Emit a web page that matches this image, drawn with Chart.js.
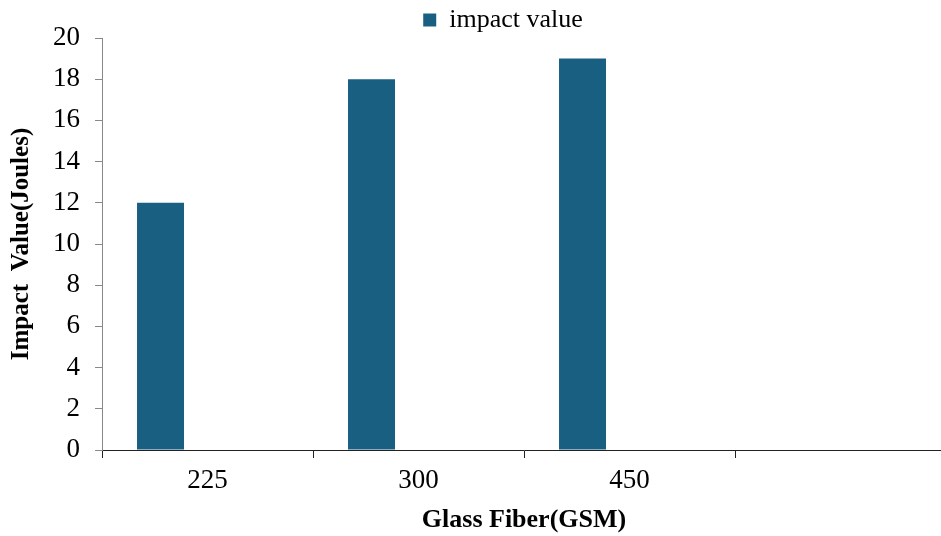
<!DOCTYPE html>
<html><head><meta charset="utf-8">
<script src="https://cdn.jsdelivr.net/npm/chart.js@4.4.1/dist/chart.umd.min.js"></script>
<style>
html,body{margin:0;padding:0;overflow:hidden;background:#fff}
#wrap{width:946px;height:536px;position:relative}
</style>
</head><body>
<div id="wrap"><canvas id="c"></canvas></div>
<script>
const categories = ['225', '300', '450', ''];
const impactValues = [12, 18, 19, null];
const emptySeriesA = [null, null, null, null];
const emptySeriesB = [null, null, null, null];
const seriesLabel = 'impact value';
const xTitle = 'Glass Fiber(GSM)';
const yTitle = 'Impact  Value(Joules)';
const yMin = 0, yMax = 20, yStep = 2;

const serif = '"Liberation Serif", "Times New Roman", serif';
const barColor = '#185f82';

const legendShift = {
  id: 'legendShift',
  afterLayout(chart) {
    const lg = chart.legend;
    if (lg) { lg.left += 28; lg.right += 28; lg.top += 5; lg.bottom += 5; }
  }
};

new Chart(document.getElementById('c'), {
  type: 'bar',
  data: {
    labels: categories,
    datasets: [
      { label: seriesLabel, data: impactValues, backgroundColor: barColor, borderWidth: 0 },
      { label: 'a', data: emptySeriesA, backgroundColor: barColor },
      { label: 'b', data: emptySeriesB, backgroundColor: barColor }
    ]
  },
  plugins: [legendShift],
  options: {
    responsive: true,
    maintainAspectRatio: false,
    animation: false,
    layout: { padding: { left: 4, top: 0, right: 0, bottom: 0 } },
    datasets: { bar: { categoryPercentage: 0.668, barPercentage: 1 } },
    plugins: {
      tooltip: { enabled: false },
      legend: {
        position: 'top',
        labels: {
          filter: (item) => item.datasetIndex === 0,
          boxWidth: 13, boxHeight: 13, padding: 2,
          color: '#000',
          font: { family: serif, size: 26 }
        }
      }
    },
    scales: {
      x: {
        offset: true,
        afterFit: (s) => { s.height = 86; },
        grid: { display: true, offset: true, drawOnChartArea: false, tickLength: 8, color: '#222', tickColor: '#222' },
        border: { display: true, color: '#222', width: 1 },
        ticks: { color: '#000', padding: 7, font: { family: serif, size: 27 } },
        title: { display: true, text: xTitle, color: '#000', padding: { top: 7, bottom: 0 }, font: { family: serif, size: 26, weight: 'bold' } }
      },
      y: {
        min: yMin, max: yMax,
        afterFit: (s) => { s.width = 98; },
        grid: { display: true, drawOnChartArea: false, tickLength: 7, color: '#888', tickColor: '#888' },
        border: { display: true, color: '#888', width: 1 },
        ticks: { stepSize: yStep, color: '#000', padding: 15, font: { family: serif, size: 27 } },
        title: { display: true, text: yTitle, color: '#000', padding: { top: 3, bottom: 4 }, font: { family: serif, size: 25, weight: 'bold' } }
      }
    }
  }
});
</script>
</body></html>
